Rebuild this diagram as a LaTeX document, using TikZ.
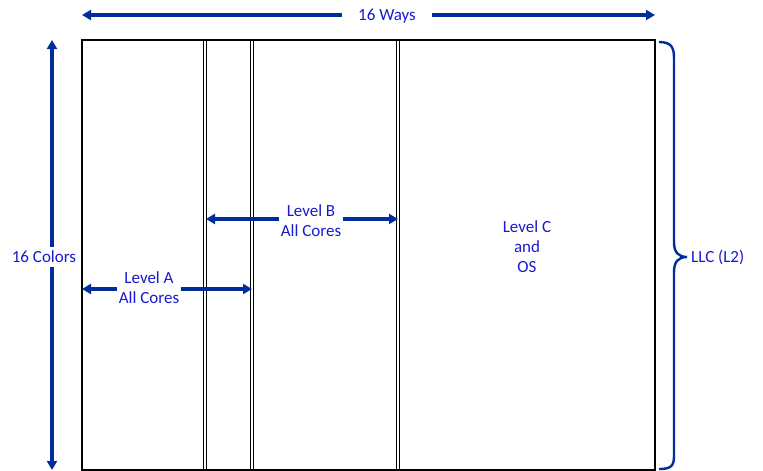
\documentclass[tikz,border=0pt]{standalone}
\usepackage{fontspec}
\setmainfont{Carlito}
\usetikzlibrary{arrows.meta}
\definecolor{arrblue}{RGB}{0,45,155}
\definecolor{txtblue}{RGB}{25,25,210}
\tikzset{
  arr/.style={draw=arrblue, line width=3.2pt, {Triangle[length=9pt,width=10pt]}-{Triangle[length=9pt,width=10pt]}},
  lbl/.style={text=txtblue, font=\fontsize{17}{20}\selectfont, fill=white, align=center, inner sep=0pt},
  box/.style={draw=black, line width=1.4pt},
  thin/.style={draw=black, line width=1.2pt},
  brc/.style={draw=arrblue, line width=2.4pt}
}
\begin{document}
\begin{tikzpicture}[x=1pt,y=-1pt]
\useasboundingbox (0,0) rectangle (763,471);
% outer box
\draw[box] (82,40) rectangle (655,470);
% double dividers
\foreach \xx in {205,252,398} {
  \draw[thin] (\xx-1.7,40) -- (\xx-1.7,470);
  \draw[thin] (\xx+1.7,40) -- (\xx+1.7,470);
}
% coordinates
\coordinate (wl) at (82,15);
\coordinate (wr) at (655,15);
\coordinate (ct) at (52,40);
\coordinate (cb) at (52,470);
\coordinate (al) at (82,289);
\coordinate (ar) at (252,289);
\coordinate (bl) at (206,219);
\coordinate (br) at (398,219);
% arrows
\draw[arr] (wl) -- (wr);
\draw[arr] (ct) -- (cb);
\draw[arr] (al) -- (ar);
\draw[arr] (bl) -- (br);
% labels
\node[lbl, inner xsep=16pt, inner ysep=2pt] (ways) at (387,16) {16 Ways};
\node[lbl, inner ysep=4pt, inner xsep=1pt] (colors) at (44,257) {16 Colors};
\node[lbl, inner xsep=2pt] (lva) at (149,288) {Level A\\All Cores};
\node[lbl, inner xsep=2pt] (lvb) at (311,221) {Level B\\All Cores};
\node[lbl, fill=none] (lvc) at (527,247) {Level C\\and\\OS};
% brace
\draw[brc] (659,42) .. controls (671,42) and (674,47) .. (674,58) -- (674,242)
  .. controls (674,252) and (678,257) .. (687,257)
  .. controls (678,257) and (674,262) .. (674,272) -- (674,456)
  .. controls (674,466) and (671,469) .. (659,469);
\node[lbl, fill=none, anchor=west] (llc) at (691,257) {LLC (L2)};
\end{tikzpicture}
\end{document}
